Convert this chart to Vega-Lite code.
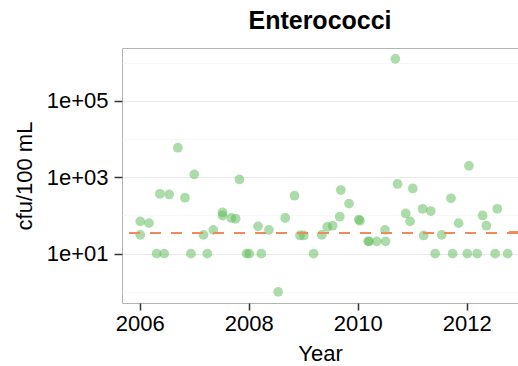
{
  "$schema": "https://vega.github.io/schema/vega-lite/v6.json",
  "autosize": "none",
  "width": 396,
  "height": 255,
  "padding": {"left": 122, "top": 48, "right": 0, "bottom": 63},
  "background": "white",
  "config": {
    "font": "Liberation Sans",
    "view": {"stroke": "#b3b3b3", "strokeWidth": 1}
  },
  "title": {"text": "Enterococci", "fontSize": 25, "fontWeight": "bold", "color": "black", "anchor": "middle", "offset": 14, "font": "Liberation Sans"},
  "data": {"values": [
    {"year": 2006.01, "cfu": 70},
    {"year": 2006.01, "cfu": 31},
    {"year": 2006.17, "cfu": 63},
    {"year": 2006.31, "cfu": 10},
    {"year": 2006.45, "cfu": 10},
    {"year": 2006.37, "cfu": 370},
    {"year": 2006.54, "cfu": 355},
    {"year": 2006.70, "cfu": 5960},
    {"year": 2006.83, "cfu": 292},
    {"year": 2006.94, "cfu": 10},
    {"year": 2007.00, "cfu": 1190},
    {"year": 2007.17, "cfu": 31},
    {"year": 2007.24, "cfu": 10},
    {"year": 2007.35, "cfu": 42},
    {"year": 2007.52, "cfu": 120},
    {"year": 2007.52, "cfu": 99},
    {"year": 2007.68, "cfu": 86},
    {"year": 2007.76, "cfu": 82},
    {"year": 2007.83, "cfu": 880},
    {"year": 2007.96, "cfu": 10},
    {"year": 2008.01, "cfu": 10},
    {"year": 2008.17, "cfu": 52},
    {"year": 2008.23, "cfu": 10},
    {"year": 2008.37, "cfu": 42},
    {"year": 2008.54, "cfu": 1},
    {"year": 2008.67, "cfu": 86},
    {"year": 2008.84, "cfu": 330},
    {"year": 2008.94, "cfu": 30},
    {"year": 2009.01, "cfu": 30},
    {"year": 2009.19, "cfu": 10},
    {"year": 2009.34, "cfu": 31},
    {"year": 2009.44, "cfu": 50},
    {"year": 2009.54, "cfu": 54},
    {"year": 2009.67, "cfu": 93},
    {"year": 2009.69, "cfu": 465},
    {"year": 2009.84, "cfu": 205},
    {"year": 2010.02, "cfu": 78},
    {"year": 2010.04, "cfu": 73},
    {"year": 2010.19, "cfu": 21},
    {"year": 2010.21, "cfu": 21},
    {"year": 2010.35, "cfu": 21},
    {"year": 2010.51, "cfu": 21},
    {"year": 2010.50, "cfu": 42},
    {"year": 2010.69, "cfu": 1270000},
    {"year": 2010.73, "cfu": 670},
    {"year": 2010.88, "cfu": 113},
    {"year": 2010.96, "cfu": 70},
    {"year": 2011.01, "cfu": 510},
    {"year": 2011.19, "cfu": 150},
    {"year": 2011.21, "cfu": 30},
    {"year": 2011.34, "cfu": 131},
    {"year": 2011.42, "cfu": 10},
    {"year": 2011.54, "cfu": 31},
    {"year": 2011.71, "cfu": 282},
    {"year": 2011.74, "cfu": 10},
    {"year": 2011.85, "cfu": 63},
    {"year": 2012.01, "cfu": 10},
    {"year": 2012.04, "cfu": 2000},
    {"year": 2012.19, "cfu": 10},
    {"year": 2012.29, "cfu": 100},
    {"year": 2012.36, "cfu": 54},
    {"year": 2012.52, "cfu": 10},
    {"year": 2012.56, "cfu": 150},
    {"year": 2012.75, "cfu": 10}
  ]},
  "layer": [
    {
      "mark": {"type": "point", "filled": true, "size": 95, "color": "#5ab953", "opacity": 0.5},
      "encoding": {
        "x": {
          "field": "year", "type": "quantitative",
          "scale": {"domain": [2005.675, 2012.94], "nice": false, "zero": false},
          "axis": {
            "title": "Year", "values": [2006, 2008, 2010, 2012], "format": "d",
            "grid": false, "domain": false,
            "labelFontSize": 22, "labelColor": "black", "labelPadding": 3,
            "tickSize": 7, "tickColor": "#333333", "tickWidth": 1.5,
            "titleFontSize": 22, "titleFontWeight": "normal", "titleColor": "black", "titlePadding": 9
          }
        },
        "y": {
          "field": "cfu", "type": "quantitative",
          "scale": {"type": "log", "domain": [0.51, 2440000], "nice": false},
          "axis": {
            "title": "cfu/100 mL",
            "values": [1, 10, 100, 1000, 10000, 100000, 1000000],
            "labelExpr": "datum.value == 10 ? '1e+01' : datum.value == 1000 ? '1e+03' : datum.value == 100000 ? '1e+05' : ''",
            "grid": true,
            "gridColor": {"condition": {"test": "datum.value == 10 || datum.value == 1000 || datum.value == 100000", "value": "#ebebeb"}, "value": "#f5f5f5"},
            "gridWidth": {"condition": {"test": "datum.value == 10 || datum.value == 1000 || datum.value == 100000", "value": 1.2}, "value": 0.8},
            "tickOpacity": {"condition": {"test": "datum.value == 10 || datum.value == 1000 || datum.value == 100000", "value": 1}, "value": 0},
            "domain": false,
            "labelFontSize": 22, "labelColor": "black", "labelPadding": 6,
            "tickSize": 8, "tickColor": "#333333", "tickWidth": 1.5,
            "titleFontSize": 22, "titleFontWeight": "normal", "titleColor": "black", "titlePadding": 10
          }
        }
      }
    },
    {
      "mark": {"type": "rule", "color": "#f08a5d", "strokeWidth": 2, "strokeDash": [11, 10]},
      "encoding": {"y": {"datum": 35}}
    }
  ]
}
